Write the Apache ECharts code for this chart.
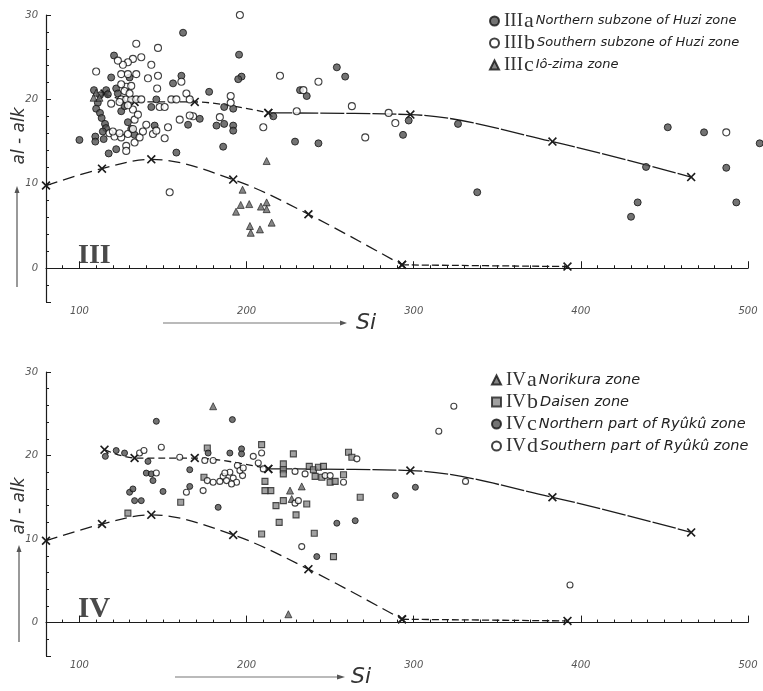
<!DOCTYPE html>
<html>
<head>
<meta charset="utf-8">
<script src="https://cdn.jsdelivr.net/npm/echarts@6/dist/echarts.min.js"></script>
<style>html,body{margin:0;padding:0;background:#fff}#chart{width:763px;height:691px}</style>
</head>
<body>
<div id="chart"></div>
<script>
// Axis ranges; labels fall on the round values 100..500 and 0..30
const siRange = [80, 500];
const alkRange = [-4, 30];

// Reference curves marked with X, drawn in both panels
const upperCurveA = [[115,20.7],[133,19.7],[169,19.7],[213,18.4]];
const upperCurveB = [[213,18.4],[298,18.2],[383,15.0],[466,10.8]];
const lowerCurveA = [[80,9.8],[113.5,11.8],[143,12.9],[192,10.5],[237,6.4],[293,0.4]];
const lowerCurveB = [[293,0.4],[392,0.2]];

// Panel III: [Si, al-alk]
const zoneIIIa = [
  [100,15.2],[109.5,15.6],[109.5,15.0],[114.5,15.3],[117.5,13.6],[122,14.1],
  [108.7,21.1],[112.3,20.5],[116,21.1],[117,20.6],[111,19.6],[110,18.9],
  [112.3,18.4],[113.3,17.8],[115.3,17.1],[115.9,16.6],[114,16.2],
  [120.7,25.2],[119,22.6],[122,21.3],[123,20.7],[130,22.6],
  [125,18.6],[129,17.3],[131,16.5],[133,15.8],[127,19.2],
  [143,19.1],[146,20.0],[145,16.9],[156,21.9],[161,22.8],[162,27.9],
  [177.6,20.9],[195.5,25.3],[197,22.7],[195,22.4],[192,18.9],[186.6,19.1],
  [172,17.7],[165,17.0],[182,16.9],[186.6,17.1],[192,16.9],[192,16.3],
  [186,14.4],[158,13.7],[254,23.8],[259,22.7],[232,21.1],[236,20.4],[216,18.0],
  [229,15.0],[243,14.8],
  [297,17.5],[293.6,15.8],[326.5,17.1],[338,9.0],[452,16.7],[473.7,16.1],
  [507,14.8],[439,12.0],[487,11.9],[434,7.8],[430,6.1],[493,7.8]
];
const zoneIIIb = [
  [196,30.0],[134,26.6],[147,26.1],[137,25.0],[132,24.8],[129,24.4],[126,24.1],[123,24.6],
  [110,23.3],[143,24.1],[125,23.0],[129,23.0],[134,23.0],[141,22.5],[147,22.8],
  [161,22.1],[128,21.5],[131,21.6],[146.5,21.3],[127,21.0],[164,20.7],[125,21.8],
  [220,22.8],[243,22.1],[234,21.1],[190.5,20.4],[190.5,19.6],[263,19.2],[230,18.6],
  [155,20.0],[158,20.0],[166,20.0],[125,20.0],[128,20.0],[131,20.0],[134,20.0],[137,20.0],[130,20.7],
  [148,19.1],[151,19.1],[168,18.0],[160,17.6],[184,17.9],[166,18.1],[210,16.7],[271,15.5],[151,15.4],
  [144,15.9],[146,16.3],[153,16.7],[128,14.5],[128,13.9],[133,14.9],
  [133,17.6],[132,18.8],[129,19.3],[124,19.7],[119,19.5],[118,16.0],[121,15.6],[125,15.5],
  [129,15.9],[132,16.5],[136,15.5],[138,16.2],[140,17.0],[135,18.2],[120,16.2],[124,16.0],
  [154,9.0],[285,18.4],[289,17.2],[487,16.1]
];
const zoneIIIc = [
  [212,12.7],[197.6,9.3],[196.5,7.5],[193.7,6.7],[201.6,7.6],[208.6,7.3],[212,7.8],[212,7.0],
  [202,5.0],[202.5,4.2],[208,4.6],[215,5.4],[110,20.8],[108.5,20.2],[112,20.2]
];

// Panel IV: [Si, al-alk]
const zoneIVa = [[180,25.9],[226,15.8],[233,16.3],[227,14.8],[225,1.0]];
const zoneIVb = [
  [176.5,20.9],[209,21.3],[228,20.2],[222,19.0],[222,18.3],[222,17.8],[237.5,18.7],[240,18.3],
  [243,18.6],[246,18.7],[241,17.5],[245,17.4],[258,17.7],[261,20.4],[263,19.8],[250,16.8],
  [253,16.9],[268,15.0],[240.5,10.7],[209,10.6],[219.5,12.0],[229.6,12.9],[236,14.2],[222,14.6],
  [211,16.9],[214.5,15.8],[211,15.8],[217.6,14.0],[174.5,17.4],[160.6,14.4],[129,13.1],[252,7.9]
];
const zoneIVc = [
  [146,24.1],[191.5,24.3],[115.5,19.9],[122,20.6],[127,20.3],[141,19.3],[177,20.3],[190,20.3],
  [197,20.8],[197,20.2],[166,18.3],[166,16.3],[183,13.8],[144,17.0],[140,17.9],[143,17.8],
  [150,15.7],[130,15.6],[132,16.0],[133,14.6],[137,14.6],[265,12.2],[254,11.9],[242,7.9],
  [289,15.2],[301,16.2]
];
const zoneIVd = [
  [136,20.3],[138.6,20.6],[146,17.9],[160,19.8],[175,19.4],[180,19.4],[209,20.3],[204,19.9],
  [194.5,18.8],[207,19.1],[210,18.4],[229,18.1],[235,17.8],[247,17.6],[250,17.6],[258,16.8],
  [266,19.6],[229,14.3],[231,14.6],[190,18.0],[186,17.5],[188,17.0],[192,17.3],[194,16.8],
  [184,16.9],[197.6,17.6],[196,18.2],[198,18.5],[176.5,17.0],[180,16.8],[164,15.6],[174,15.8],
  [149,21.0],[324,25.9],[315,22.9],[331,16.9],[393.5,4.5],[233,9.1],[187,17.9],[191,16.6]
];

// Legend wording
const zoneKeys = ['IIIa','IIIb','IIIc','IVa','IVb','IVc','IVd'];
const zoneNumerals = ['III','III','III','IV','IV','IV','IV'];
const zoneLetters = ['a','b','c','a','b','c','d'];
const zoneNames = [
  'Northern subzone of Huzi zone','Southern subzone of Huzi zone','Iô-zima zone',
  'Norikura zone','Daisen zone','Northern part of Ryûkû zone','Southern part of Ryûkû zone'
];

const chart = echarts.init(document.getElementById('chart'), null, {renderer: 'canvas'});

const INK = '#1c1c1c';
const tickFont = {fontStyle: 'italic', fontFamily: 'DejaVu Sans', fontSize: 10, color: '#555'};
const X_MARK = 'path://M0,1.3L1.3,0L5,3.7L8.7,0L10,1.3L6.3,5L10,8.7L8.7,10L5,6.3L1.3,10L0,8.7L3.7,5Z';

// hide the label at the axis start (80 / -4), which is not a round value
function roundOnly(step) {
  return function (v) { return Math.abs(v % step) < 1e-6 ? String(v) : ''; };
}

// Si axis: nice step of 100, ten small ticks per step
function siAxis(grid) {
  return {
    type: 'value', gridIndex: grid, min: siRange[0], max: siRange[1], splitNumber: 5,
    axisLine: {show: true, lineStyle: {color: INK, width: 1.2}},
    axisTick: {show: true, inside: true, length: 7, lineStyle: {color: INK}},
    minorTick: {show: true, splitNumber: 10, length: 3, lineStyle: {color: INK}},
    axisLabel: Object.assign({formatter: roundOnly(100), margin: 4, showMinLabel: false}, tickFont),
    splitLine: {show: false}, minorSplitLine: {show: false}
  };
}
// al-alk axis: nice step of 10, five small ticks per step
function alkAxis(grid) {
  return {
    type: 'value', gridIndex: grid, min: alkRange[0], max: alkRange[1], splitNumber: 3,
    axisLine: {show: true, lineStyle: {color: INK, width: 1.2}},
    axisTick: {show: true, inside: true, length: 5, lineStyle: {color: INK}},
    minorTick: {show: true, splitNumber: 5, length: 3, lineStyle: {color: INK}},
    axisLabel: Object.assign({formatter: roundOnly(10), margin: 8, showMinLabel: false}, tickFont),
    splitLine: {show: false}, minorSplitLine: {show: false}
  };
}

function curve(data, axis, dash) {
  return {
    type: 'line', data: data, xAxisIndex: axis, yAxisIndex: axis, smooth: 0.35,
    symbol: X_MARK, symbolSize: 9, showSymbol: true, z: 2, silent: true,
    itemStyle: {color: INK},
    lineStyle: {color: INK, width: 1.3, type: dash}
  };
}

const filledStyle = {color: '#505050', borderColor: '#111', borderWidth: 1};
const openStyle = {color: '#fff', borderColor: '#111', borderWidth: 1.1};
const triStyle = {color: '#666', borderColor: '#111', borderWidth: 0.8};
const rectStyle = {color: '#8a8a8a', borderColor: '#222', borderWidth: 1.1};

function points(name, data, axis, symbol, size, style) {
  return {
    type: 'scatter', name: name, data: data, xAxisIndex: axis, yAxisIndex: axis,
    symbol: symbol, symbolSize: size, itemStyle: style, z: 3, clip: false, silent: true
  };
}

function legendFormatter(name) {
  const i = zoneKeys.indexOf(name);
  return '{r|' + zoneNumerals[i] + '}{l|' + zoneLetters[i] + '}{d|' + zoneNames[i] + '}';
}
function legendRich(descSize, lh) {
  return {
    r: {fontFamily: 'Liberation Serif', fontSize: 19, color: '#333', lineHeight: lh, padding: [0, 1, 0, 0]},
    l: {fontFamily: 'Liberation Serif', fontSize: 22, color: '#333', lineHeight: lh, padding: [0, 2, 0, 0]},
    d: {fontFamily: 'DejaVu Sans', fontStyle: 'italic', fontSize: descSize, color: '#222', lineHeight: lh}
  };
}

const option = {
  animation: false,
  backgroundColor: '#fff',
  grid: [
    {left: 46, top: 15, width: 702, height: 287},
    {left: 46, top: 372, width: 702, height: 284}
  ],
  xAxis: [siAxis(0), siAxis(1)],
  yAxis: [alkAxis(0), alkAxis(1)],
  legend: [
    {
      data: ['IIIa','IIIb','IIIc'], left: 489, top: 10, orient: 'vertical', padding: 0,
      itemGap: 0, itemWidth: 9, itemHeight: 9, selectedMode: false,
      formatter: legendFormatter, textStyle: {rich: legendRich(13, 19.5)}
    },
    {
      data: ['IVa','IVb','IVc','IVd'], left: 491, top: 369, orient: 'vertical', padding: 0,
      itemGap: 0, itemWidth: 9, itemHeight: 9, selectedMode: false,
      formatter: legendFormatter, textStyle: {rich: legendRich(14.5, 20.5)}
    }
  ],
  series: [
    curve(upperCurveA, 0, [7, 4]), curve(upperCurveB, 0, [24, 2]),
    curve(lowerCurveA, 0, [12, 6]), curve(lowerCurveB, 0, [7, 3]),
    curve(upperCurveA, 1, [7, 4]), curve(upperCurveB, 1, [24, 2]),
    curve(lowerCurveA, 1, [12, 6]), curve(lowerCurveB, 1, [7, 3]),
    points('IIIa', zoneIIIa, 0, 'circle', 7, filledStyle),
    points('IIIb', zoneIIIb, 0, 'circle', 7, openStyle),
    points('IIIc', zoneIIIc, 0, 'triangle', 7, triStyle),
    points('IVa', zoneIVa, 1, 'triangle', 7, triStyle),
    points('IVb', zoneIVb, 1, 'rect', 6, rectStyle),
    points('IVc', zoneIVc, 1, 'circle', 6, filledStyle),
    points('IVd', zoneIVd, 1, 'circle', 6, openStyle)
  ],
  graphic: [
    // panel numerals
    {type: 'text', x: 78, y: 256, style: {text: 'III', font: 'bold 28px "Liberation Serif"', fill: '#4a4a4a', align: 'left', verticalAlign: 'middle'}},
    {type: 'text', x: 78, y: 610, style: {text: 'IV', font: 'bold 29px "Liberation Serif"', fill: '#4a4a4a', align: 'left', verticalAlign: 'middle'}},
    // y axis titles with arrows
    {type: 'text', x: 20, y: 136, rotation: Math.PI / 2, style: {text: 'al - alk', font: 'italic 17px "DejaVu Sans"', fill: '#333', align: 'center', verticalAlign: 'middle'}},
    {type: 'line', shape: {x1: 17, y1: 190, x2: 17, y2: 287}, style: {stroke: '#555', lineWidth: 1.2}},
    {type: 'polygon', shape: {points: [[17, 186], [14.5, 193], [19.5, 193]]}, style: {fill: '#555'}},
    {type: 'text', x: 20, y: 506, rotation: Math.PI / 2, style: {text: 'al - alk', font: 'italic 17px "DejaVu Sans"', fill: '#333', align: 'center', verticalAlign: 'middle'}},
    {type: 'line', shape: {x1: 19, y1: 549, x2: 19, y2: 642}, style: {stroke: '#555', lineWidth: 1.2}},
    {type: 'polygon', shape: {points: [[19, 545], [16.5, 552], [21.5, 552]]}, style: {fill: '#555'}},
    // x axis titles with arrows
    {type: 'line', shape: {x1: 163, y1: 323, x2: 342, y2: 323}, style: {stroke: '#777', lineWidth: 1.2}},
    {type: 'polygon', shape: {points: [[347, 323], [340, 320.5], [340, 325.5]]}, style: {fill: '#555'}},
    {type: 'text', x: 366, y: 323, style: {text: 'Si', font: 'italic 22px "DejaVu Sans"', fill: '#333', align: 'center', verticalAlign: 'middle'}},
    {type: 'line', shape: {x1: 175, y1: 677, x2: 338, y2: 677}, style: {stroke: '#777', lineWidth: 1.2}},
    {type: 'polygon', shape: {points: [[345, 677], [337, 674.5], [337, 679.5]]}, style: {fill: '#555'}},
    {type: 'text', x: 361, y: 677, style: {text: 'Si', font: 'italic 22px "DejaVu Sans"', fill: '#333', align: 'center', verticalAlign: 'middle'}}
  ]
};

chart.setOption(option);
</script>
</body>
</html>
